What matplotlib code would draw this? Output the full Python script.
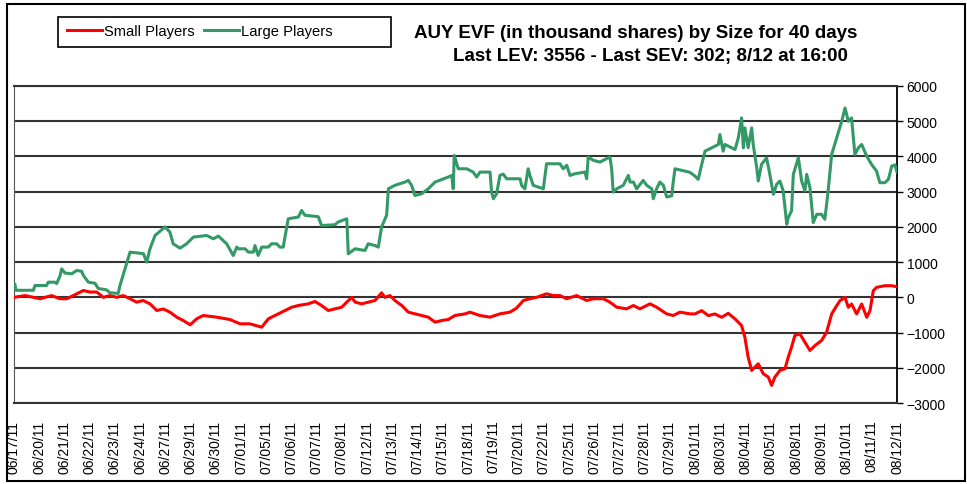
import matplotlib
matplotlib.use('Agg')
import matplotlib.pyplot as plt
from matplotlib.patches import Rectangle

plt.rcParams['font.family'] = ['Liberation Sans', 'DejaVu Sans']

TITLE = "AUY EVF (in thousand shares) by Size for 40 days"
SUBTITLE = "Last LEV: 3556 - Last SEV: 302; 8/12 at 16:00"

DATES = ['06/17/11', '06/20/11', '06/21/11', '06/22/11', '06/23/11', '06/24/11',
         '06/27/11', '06/29/11', '06/30/11', '07/01/11', '07/05/11', '07/06/11',
         '07/07/11', '07/08/11', '07/12/11', '07/13/11', '07/14/11', '07/15/11',
         '07/18/11', '07/19/11', '07/20/11', '07/22/11', '07/25/11', '07/26/11',
         '07/27/11', '07/28/11', '07/29/11', '08/01/11', '08/03/11', '08/04/11',
         '08/05/11', '08/08/11', '08/09/11', '08/10/11', '08/11/11', '08/12/11']

# position along the day axis (1.0 = one labelled day), value in thousand shares
LARGE_X = [0.00, 0.03, 0.08, 0.77, 0.83, 1.29, 1.36, 1.62, 1.69, 1.82, 1.89, 2.02,
           2.29, 2.48, 2.68, 2.75, 2.95, 3.21, 3.34, 3.67, 3.80, 4.13, 4.20, 4.40,
           4.60, 5.13, 5.26, 5.39, 5.59, 5.99, 6.18, 6.31, 6.58, 6.84, 7.11, 7.64,
           7.90, 8.10, 8.43, 8.69, 8.83, 8.89, 9.16, 9.29, 9.49, 9.55, 9.68, 9.82,
           10.08, 10.21, 10.41, 10.54, 10.67, 10.74, 10.87, 11.27, 11.40, 11.53, 12.06,
           12.19, 12.72, 12.85, 13.19, 13.25, 13.52, 13.91, 14.04, 14.31, 14.44, 14.57,
           14.77, 14.84, 15.10, 15.50, 15.63, 15.76, 15.89, 16.16, 16.42, 16.69, 17.21,
           17.35, 17.41, 17.45, 17.61, 17.94, 18.20, 18.34, 18.47, 18.87, 18.93, 19.00,
           19.13, 19.26, 19.39, 19.53, 20.06, 20.12, 20.25, 20.38, 20.45, 20.58, 20.98,
           21.11, 21.64, 21.77, 21.91, 22.04, 22.24, 22.63, 22.70, 22.76, 22.96, 23.23,
           23.49, 23.62, 23.69, 23.75, 23.89, 24.15, 24.35, 24.42, 24.55, 24.68, 24.94,
           25.08, 25.28, 25.34, 25.47, 25.60, 25.74, 25.87, 26.07, 26.13, 26.20, 26.79,
           26.99, 27.12, 27.26, 27.39, 27.78, 27.92, 27.98, 28.11, 28.18, 28.58, 28.71,
           28.84, 28.91, 28.97, 29.10, 29.24, 29.30, 29.44, 29.50, 29.63, 29.83, 29.96,
           30.10, 30.23, 30.36, 30.49, 30.63, 30.69, 30.82, 30.89, 31.09, 31.22, 31.35,
           31.42, 31.55, 31.68, 31.82, 32.01, 32.14, 32.27, 32.41, 32.61, 32.81, 32.94,
           33.07, 33.20, 33.33, 33.47, 33.60, 33.80, 33.99, 34.19, 34.32, 34.52, 34.66,
           34.79, 34.92, 35.00]
LARGE = [300, 380, 200, 200, 335, 335, 430, 430, 390, 600, 810, 690,
         668, 762, 740, 620, 430, 400, 250, 213, 130, 110, 335, 810,
         1284, 1240, 1000, 1378, 1756, 2000, 1850, 1520, 1397, 1520, 1710, 1756,
         1662, 1740, 1520, 1188, 1426, 1378, 1378, 1284, 1284, 1470, 1190, 1426,
         1426, 1520, 1520, 1426, 1426, 1710, 2230, 2280, 2466, 2330, 2290,
         2040, 2060, 2140, 2230, 1236, 1378, 1330, 1520, 1470, 1426, 1994,
         2330, 3082, 3180, 3273, 3320, 3180, 2892, 2940, 3082, 3273, 3414,
         3460, 3082, 4028, 3650, 3650, 3556, 3414, 3556, 3556, 2988, 2800,
         2940, 3460, 3500, 3366, 3366, 3180, 3082, 3650, 3460, 3180, 3082,
         3792, 3792, 3650, 3750, 3460, 3510, 3556, 3366, 3983, 3890, 3840,
         3940, 3983, 3650, 2988, 3082, 3180, 3460, 3273, 3273, 3082, 3320,
         3180, 3082, 2800, 3082, 3273, 3180, 2850, 2880, 3273, 3650, 3550,
         3443, 3349, 3774, 4150, 4292, 4340, 4622, 4150, 4340, 4198, 4528,
         5094, 4245, 4811, 4250, 4811, 4340, 3679, 3302, 3774, 3962, 3490,
         2925, 3208, 3302, 3019, 2075, 2264, 2453, 3490, 3962, 3302, 3019,
         3490, 3113, 2123, 2358, 2358, 2217, 3019, 4057, 4528, 5000, 5377,
         5000, 5094, 4057, 4245, 4340, 4009, 3774, 3585, 3255, 3255, 3349,
         3726, 3760, 3556]

SMALL_X = [0.00, 0.44, 1.03, 1.49, 1.82, 2.09, 2.35, 2.75, 3.01, 3.28, 3.54, 3.80,
           4.07, 4.33, 4.60, 4.86, 5.12, 5.39, 5.66, 5.92, 6.18, 6.45, 6.71, 6.98,
           7.24, 7.50, 8.03, 8.56, 8.96, 9.35, 9.82, 10.08, 10.34, 10.61, 11.01, 11.27,
           11.66, 11.93, 12.19, 12.46, 12.72, 12.99, 13.19, 13.39, 13.52, 13.78, 14.04,
           14.31, 14.57, 14.70, 14.90, 15.10, 15.37, 15.63, 15.89, 16.16, 16.42, 16.69,
           16.95, 17.21, 17.48, 17.88, 18.07, 18.47, 18.87, 19.26, 19.66, 19.92, 20.19,
           20.45, 20.71, 21.11, 21.38, 21.64, 21.91, 22.30, 22.70, 22.96, 23.36, 23.62,
           23.89, 24.28, 24.55, 24.81, 25.21, 25.47, 25.87, 26.13, 26.40, 26.79, 26.99,
           27.26, 27.52, 27.78, 28.05, 28.31, 28.58, 28.84, 28.97, 29.10, 29.24, 29.50,
           29.70, 29.90, 30.03, 30.16, 30.36, 30.56, 30.69, 30.82, 30.95, 31.15, 31.35,
           31.55, 31.75, 32.01, 32.21, 32.41, 32.61, 32.74, 32.94, 33.07, 33.20, 33.40,
           33.60, 33.80, 33.93, 34.06, 34.19, 34.52, 34.79, 35.00]
SMALL = [0, 50, -40, 50, -40, -40, 50, 194, 150, 150, 0, 50,
         0, 50, -40, -137, -90, -185, -374, -330, -421, -563, -658, -781,
         -610, -516, -563, -630, -752, -752, -847, -610, -516, -421, -280, -232,
         -185, -118, -232, -374, -327, -280, -137, 0, -137, -185, -137,
         -90, 128, 0, 50, -90, -232, -421, -469, -516, -563, -705,
         -658, -630, -516, -469, -421, -516, -563, -469, -421, -308, -90,
         -40, 0, 100, 50, 50, -40, 50, -90, -40, -40, -137,
         -280, -327, -232, -327, -185, -280, -469, -516, -421, -469, -472,
         -377, -519, -472, -566, -453, -613, -802, -1132, -1698, -2075, -1887,
         -2170, -2264, -2500, -2264, -2075, -2028, -1698, -1415, -1085, -1038, -1274,
         -1509, -1368, -1226, -990, -472, -236, -94, 0, -283, -189, -472,
         -189, -566, -377, 189, 283, 330, 330, 302]

fig = plt.figure(figsize=(9.67, 4.85), dpi=100)
ax = fig.add_axes([14/967, 1 - 404/485, 883/967, 317/485])

ax.plot(SMALL_X, SMALL, color='#FF0000', lw=2.2, label='Small Players', zorder=3)
ax.plot(LARGE_X, LARGE, color='#339966', lw=2.2, label='Large Players', zorder=3)

ax.set_xlim(0, len(DATES) - 1)
ax.set_ylim(-3000, 6000)
ax.set_xticks(range(len(DATES)))
ax.set_xticklabels(DATES, rotation=90, fontsize=10)
ax.set_yticks(range(-3000, 6001, 1000))
ax.yaxis.tick_right()
ax.tick_params(axis='y', labelsize=10, length=4, width=1, pad=3)
ax.tick_params(axis='x', length=0, pad=12)
ax.grid(axis='y', color='#333333', lw=1.5, zorder=1)
for s in ['top', 'bottom']:
    ax.spines[s].set_color('#333333')
    ax.spines[s].set_linewidth(1.5)
ax.spines['left'].set_color('#555555')
ax.spines['right'].set_color('black')
ax.spines['right'].set_linewidth(1.3)

leg = fig.legend(loc='center left', bbox_to_anchor=(61/967, 1 - 32/485), ncol=2,
                 frameon=False, fontsize=10.6, handlelength=2.4, handletextpad=0.15,
                 columnspacing=0.6, borderaxespad=0)
fig.patches.append(Rectangle((58/967, 1 - 48/485), 333/967, 30/485, transform=fig.transFigure,
                             fill=False, edgecolor='black', lw=1.2))
fig.patches.append(Rectangle((7/967, 1 - 482/485), 958/967, 477/485, transform=fig.transFigure,
                             fill=False, edgecolor='black', lw=1.5))

fig.text(636/967, 1 - 33/485, TITLE, ha='center', va='center', fontsize=13.5, fontweight='bold')
fig.text(650/967, 1 - 57/485, SUBTITLE, ha='center', va='center', fontsize=13.5, fontweight='bold')

fig.savefig('out.png', dpi=100)
